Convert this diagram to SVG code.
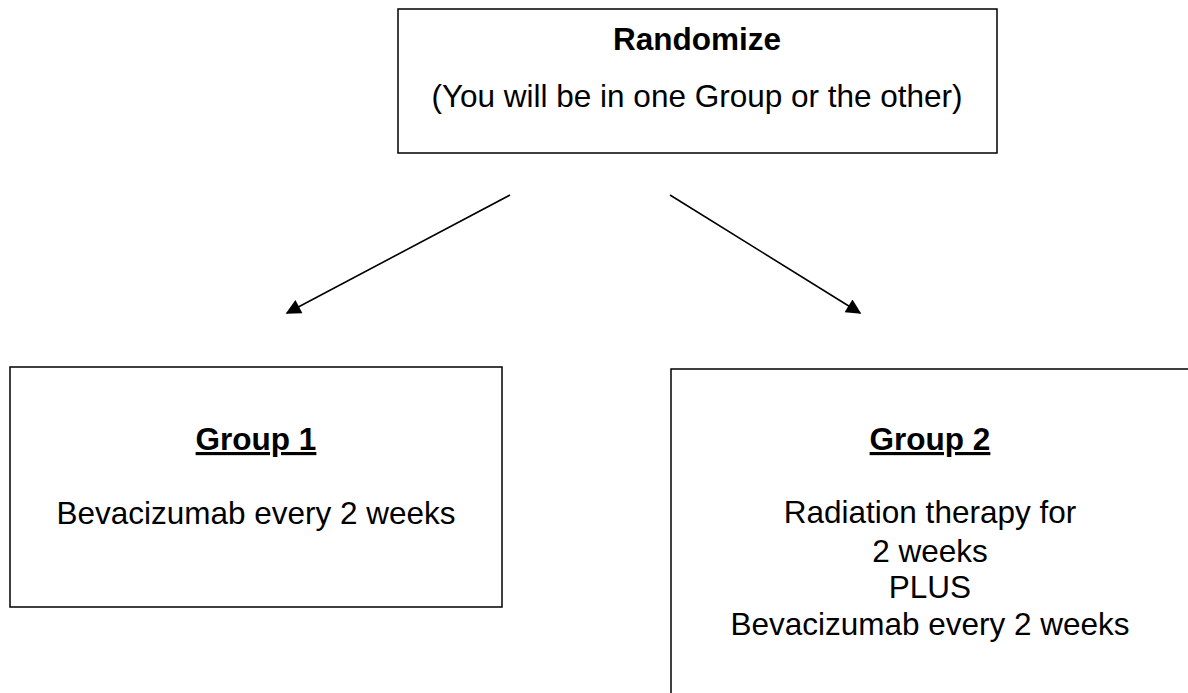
<svg xmlns="http://www.w3.org/2000/svg" width="1188" height="693" viewBox="0 0 1188 693">
<style>
.box{fill:#fff;stroke:#000;stroke-width:1.5}
.t{font-family:"Liberation Sans",Arial,sans-serif;font-size:31.5px;fill:#000;text-anchor:middle}
.b{font-weight:bold}
.u{text-decoration:underline}
.c{stroke:#000;stroke-width:1.6;fill:none}
</style>
<defs>
<marker id="ah" viewBox="0 0 10 10" refX="9" refY="5" markerWidth="16" markerHeight="15" markerUnits="userSpaceOnUse" orient="auto">
<path d="M0,0 L10,5 L0,10 Z" fill="#000"/>
</marker>
</defs>
<rect width="1188" height="693" fill="#fff"/>
<g id="randomize">
<rect class="box" x="398" y="9" width="599" height="144"/>
<text class="t b" x="697" y="50">Randomize</text>
<text class="t" x="697" y="107">(You will be in one Group or the other)</text>
</g>
<g id="connectors">
<line class="c" x1="510" y1="195" x2="287" y2="313" marker-end="url(#ah)"/>
<line class="c" x1="670" y1="195" x2="860" y2="313" marker-end="url(#ah)"/>
</g>
<g id="group1">
<rect class="box" x="10" y="367" width="492" height="240"/>
<text class="t b u" x="256" y="450">Group 1</text>
<text class="t" x="256" y="524">Bevacizumab every 2 weeks</text>
</g>
<g id="group2">
<rect class="box" x="671" y="369" width="600" height="400"/>
<text class="t b u" x="930" y="450">Group 2</text>
<text class="t" x="930" y="523">Radiation therapy for</text>
<text class="t" x="930" y="562">2 weeks</text>
<text class="t" x="930" y="598">PLUS</text>
<text class="t" x="930" y="635">Bevacizumab every 2 weeks</text>
</g>
</svg>
